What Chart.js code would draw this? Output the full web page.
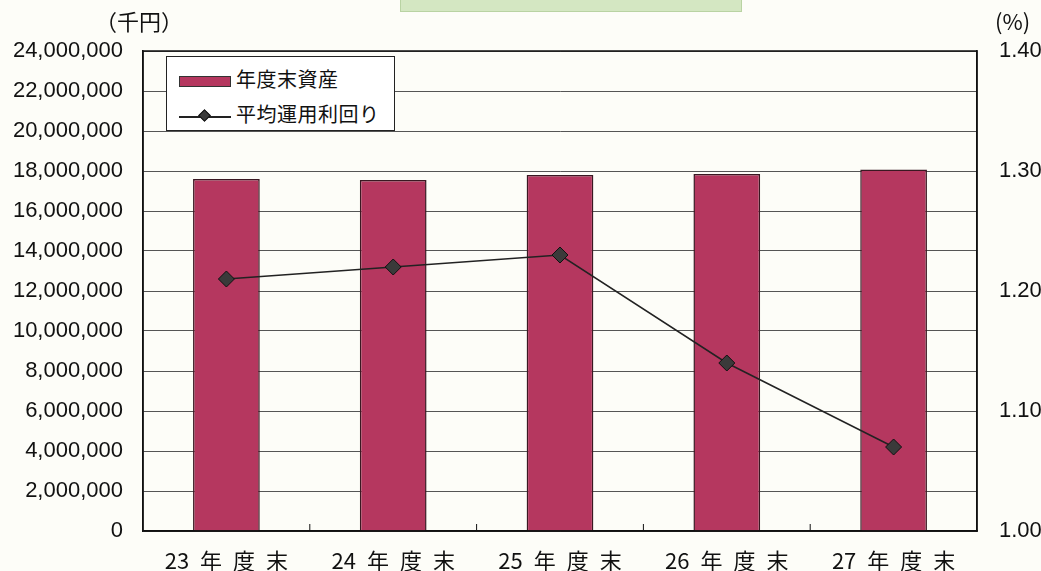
<!DOCTYPE html>
<html lang="ja">
<head>
<meta charset="utf-8">
<title>年度末資産と平均運用利回り</title>
<style>
  html, body { margin: 0; padding: 0; background: #fdfdf8; }
  #wrap { position: relative; width: 1041px; height: 571px; overflow: hidden; }
  #titleBox { position: absolute; left: 400px; top: -20px; width: 340px; height: 30px;
              background: #d4e7c2; border: 1px solid #b9d3a3; }
  .unit { position: absolute; top: 4px; font: 22px 'Noto Sans CJK JP', sans-serif; color: #111; }
  #legend { position: absolute; left: 166px; top: 56px; width: 229px; height: 75px;
            background: #fff; border: 1.5px solid #222; box-sizing: border-box;
            font: 20px 'Noto Sans CJK JP', sans-serif; color: #111; letter-spacing: 0.5px; }
  .row { position: absolute; left: 12px; height: 28px; line-height: 28px; }
  .swatch { display: inline-block; width: 52px; height: 11px; background: #b5375f;
            border: 1px solid #333; box-sizing: border-box; vertical-align: middle; margin-right: 5px; }
  .lineKey { display: inline-block; position: relative; width: 52px; height: 2px; background: #222;
             vertical-align: middle; margin-right: 5px; }
  .lineKey i { position: absolute; left: 21px; top: -5px; width: 9px; height: 9px;
               background: #3a3a3a; border: 1px solid #111; box-sizing: border-box; transform: rotate(45deg); }
</style>
</head>
<body>
<div id="wrap">
  <canvas id="myChart" width="1041" height="571"></canvas>
  <div id="titleBox"></div>
  <div class="unit" style="left:95px;">（千円）</div>
  <div class="unit" style="left:995px;">(%)</div>
  <div id="legend"></div>
</div>

<script src="https://cdn.jsdelivr.net/npm/chart.js"></script>
<script>
  // values
  const years = ['23 年 度 末', '24 年 度 末', '25 年 度 末', '26 年 度 末', '27 年 度 末'];
  const assets = [17600000, 17550000, 17800000, 17850000, 18080000];   // 千円
  const yields = [1.21, 1.22, 1.23, 1.14, 1.07];                       // %
  const assetLabel = '年度末資産';
  const yieldLabel = '平均運用利回り';

  // legend (drawn over the plot, like the original)
  document.getElementById('legend').innerHTML =
    '<div class="row" style="top:8px;"><span class="swatch"></span>' + assetLabel + '</div>' +
    '<div class="row" style="top:43px;"><span class="lineKey"><i></i></span>' + yieldLabel + '</div>';

  const numFont = { family: "'Liberation Sans', Arial, sans-serif", size: 22 };

  // black frame round the plot and short inner ticks between categories
  const frame = {
    id: 'frame',
    afterDraw(chart) {
      const { ctx, chartArea: a, scales } = chart;
      ctx.save();
      ctx.strokeStyle = '#111';
      ctx.lineWidth = 1.5;
      ctx.strokeRect(a.left, a.top, a.right - a.left, a.bottom - a.top);
      ctx.lineWidth = 1;
      for (let i = 1; i < years.length; i++) {
        const x = scales.x.getPixelForValue(i - 0.5);
        ctx.beginPath();
        ctx.moveTo(x, a.bottom);
        ctx.lineTo(x, a.bottom - 7);
        ctx.stroke();
      }
      ctx.restore();
    }
  };

  new Chart(document.getElementById('myChart'), {
    data: {
      labels: years,
      datasets: [{
        type: 'line',
        label: yieldLabel,
        data: yields,
        yAxisID: 'y1',
        borderColor: '#222',
        borderWidth: 1.5,
        pointStyle: 'rectRot',
        pointRadius: 8,
        pointBackgroundColor: '#3a3a3a',
        pointBorderColor: '#111',
        pointBorderWidth: 1,
        order: 1
      }, {
        type: 'bar',
        label: assetLabel,
        data: assets,
        yAxisID: 'y',
        backgroundColor: '#b5375f',
        borderColor: '#3a1822',
        borderWidth: 1.5,
        barPercentage: 0.4,
        categoryPercentage: 1,
        order: 2
      }]
    },
    options: {
      responsive: false,
      animation: false,
      layout: { padding: { top: 51, left: 0, right: 0, bottom: 0 } },
      plugins: { legend: { display: false }, tooltip: { enabled: false } },
      scales: {
        x: {
          grid: { display: false },
          border: { color: '#111', width: 1.5 },
          ticks: {
            color: '#111',
            padding: 8,
            font: { family: "'Noto Sans CJK JP', sans-serif", size: 22 },
            callback(v) { return this.getLabelForValue(v).split(' ').join('\u2002'); }
          },
          afterFit(s) { s.height = 40; }
        },
        y: {
          position: 'left',
          min: 0,
          max: 24000000,
          ticks: {
            stepSize: 2000000,
            color: '#111',
            padding: 20,
            font: numFont,
            callback: v => v.toLocaleString('en-US')
          },
          grid: { color: '#555', lineWidth: 1, drawTicks: false },
          border: { color: '#111', width: 1.5 },
          afterFit(s) { s.width = 143; }
        },
        y1: {
          position: 'right',
          min: 1.0,
          max: 1.4,
          ticks: {
            stepSize: 0.1,
            color: '#111',
            padding: 22,
            font: numFont,
            callback: v => v.toFixed(2)
          },
          grid: { drawOnChartArea: false, drawTicks: false },
          border: { color: '#111', width: 1.5 },
          afterFit(s) { s.width = 64; }
        }
      }
    },
    plugins: [frame]
  });
</script>
</body>
</html>
